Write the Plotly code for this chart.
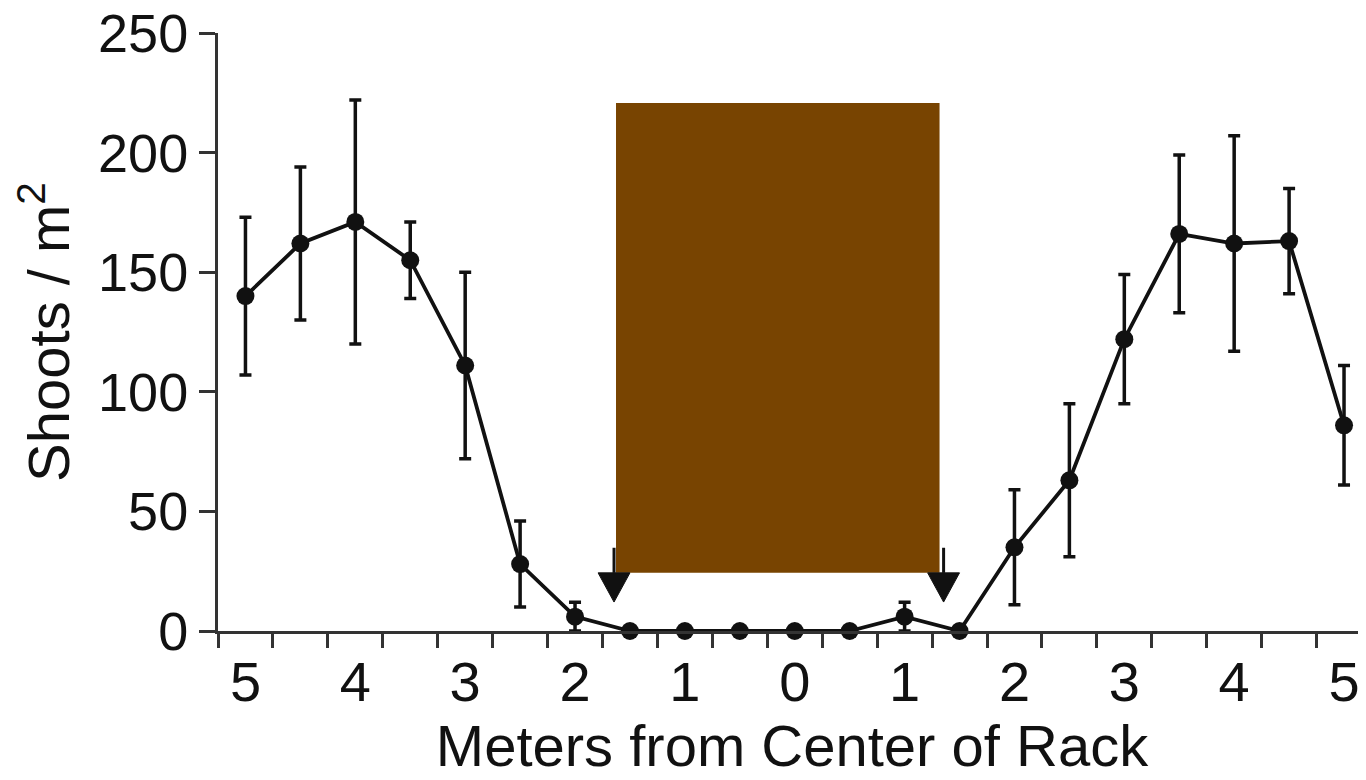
import plotly.graph_objects as go

# data (meters from rack center; left side shown as negative positions)
x_pos = [-5, -4.5, -4, -3.5, -3, -2.5, -2, -1.5, -1, -0.5, 0, 0.5, 1, 1.5, 2, 2.5, 3, 3.5, 4, 4.5, 5]
shoots = [140, 162, 171, 155, 111, 28, 6, 0, 0, 0, 0, 0, 6, 0, 35, 63, 122, 166, 162, 163, 86]
err = [33, 32, 51, 16, 39, 18, 6, 0, 0, 0, 0, 0, 6, 0, 24, 32, 27, 33, 45, 22, 25]

tick_vals = [-5, -4, -3, -2, -1, 0, 1, 2, 3, 4, 5]
tick_text = ["5", "4", "3", "2", "1", "0", "1", "2", "3", "4", "5"]
y_ticks = [0, 50, 100, 150, 200, 250]

# rack box and edge arrows (data units)
rack_x = [-1.627, 1.318]
rack_y = [24.3, 220.7]
arrow_x = [-1.645, 1.355]
arrow_stem_top = 34.8
arrow_head_top = 24.3
arrow_tip = 12.1
arrow_half_w = 0.145

INK = "#111111"
AX = "#333333"
FONT = "Liberation Sans, Arial, Helvetica, sans-serif"

fig = go.Figure()
fig.add_trace(go.Scatter(
    x=x_pos, y=shoots, mode="lines+markers",
    line=dict(color=INK, width=3.8),
    marker=dict(color=INK, size=18),
    error_y=dict(type="data", array=err, visible=True, color=INK, thickness=3.5, width=6),
    cliponaxis=False, showlegend=False,
))

shapes = [dict(type="rect", xref="x", yref="y", x0=rack_x[0], x1=rack_x[1], y0=rack_y[0], y1=rack_y[1],
               fillcolor="#784401", line=dict(width=0), layer="above")]
for ax_ in arrow_x:
    shapes.append(dict(type="line", xref="x", yref="y", x0=ax_, x1=ax_, y0=arrow_stem_top, y1=arrow_head_top,
                       line=dict(color=INK, width=3), layer="above"))
    shapes.append(dict(type="path", xref="x", yref="y",
                       path=f"M {ax_-arrow_half_w},{arrow_head_top} L {ax_+arrow_half_w},{arrow_head_top} L {ax_},{arrow_tip} Z",
                       fillcolor=INK, line=dict(color=INK, width=1), layer="above"))

# page body has an 8px margin, so the figure is made 8px smaller and margins shifted
fig.update_layout(
    width=1358, height=772,
    margin=dict(l=210, r=0, t=25, b=149, autoexpand=False),
    paper_bgcolor="white", plot_bgcolor="white",
    font=dict(family=FONT, color="#111111", size=54),
    shapes=shapes,
    xaxis=dict(
        range=[-5.25, 5.2], showgrid=False, zeroline=False, automargin=False,
        showline=True, linecolor=AX, linewidth=3,
        tickmode="array", tickvals=tick_vals, ticktext=tick_text, ticks="",
        tickfont=dict(size=56), ticklabeloverflow="allow",
        minor=dict(ticks="outside", tick0=-5.25, dtick=0.5, ticklen=14, tickwidth=3, tickcolor=AX, showgrid=False),
        title=dict(text="Meters from Center of Rack", font=dict(size=58), standoff=11),
    ),
    yaxis=dict(
        range=[0, 250], showgrid=False, zeroline=False, automargin=False,
        showline=True, linecolor=AX, linewidth=3,
        tickmode="array", tickvals=y_ticks, ticks="outside", ticklen=16, tickwidth=3, tickcolor=AX,
        tickfont=dict(size=54), ticklabeloverflow="allow",
        title=dict(text="Shoots / m<sup>2</sup>", font=dict(size=58), standoff=16),
    ),
)

fig.write_html("out.html")
